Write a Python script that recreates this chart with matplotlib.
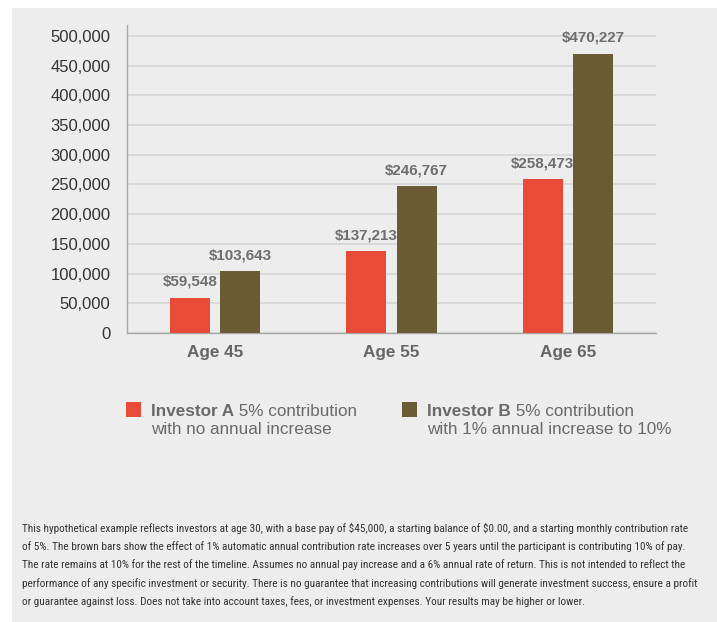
import matplotlib
matplotlib.use("Agg")
import matplotlib.pyplot as plt
from matplotlib import font_manager
from matplotlib.patches import Rectangle
import numpy as np

categories = ["Age 45", "Age 55", "Age 65"]
investor_a = [59548, 137213, 258473]
investor_b = [103643, 246767, 470227]
yticks = [0, 50000, 100000, 150000, 200000, 250000, 300000, 350000, 400000, 450000, 500000]
legend_a_bold = "Investor A"
legend_a_rest = [" 5% contribution", "with no annual increase"]
legend_b_bold = "Investor B"
legend_b_rest = [" 5% contribution", "with 1% annual increase to 10%"]
footnote_lines = [
    "This hypothetical example reflects investors at age 30, with a base pay of $45,000, a starting balance of $0.00, and a starting monthly contribution rate",
    "of 5%. The brown bars show the effect of 1% automatic annual contribution rate increases over 5 years until the participant is contributing 10% of pay.",
    "The rate remains at 10% for the rest of the timeline. Assumes no annual pay increase and a 6% annual rate of return. This is not intended to reflect the",
    "performance of any specific investment or security. There is no guarantee that increasing contributions will generate investment success, ensure a profit",
    "or guarantee against loss. Does not take into account taxes, fees, or investment expenses. Your results may be higher or lower.",
]

RED = "#E84B37"
BROWN = "#6B5B34"
BG = "#EDEDED"
W, H = 717, 622
DPI = 100

plt.rcParams['font.family'] = ['Liberation Sans', 'DejaVu Sans']

fig = plt.figure(figsize=(W / DPI, H / DPI), dpi=DPI, facecolor="white")
fig.patches.append(Rectangle((12 / W, 0), 1 - 12 / W, 1 - 8 / H, transform=fig.transFigure,
                             facecolor=BG, edgecolor="none", zorder=-10))

ax = fig.add_axes([127 / W, 1 - 333 / H, (656 - 127) / W, (333 - 25) / H])
ax.patch.set_alpha(0)

x = np.arange(len(categories))
bw = 0.227
off = 0.142
bars_a = ax.bar(x - off, investor_a, bw, color=RED, zorder=3)
bars_b = ax.bar(x + off, investor_b, bw, color=BROWN, zorder=3)

ax.set_xlim(-0.5, len(categories) - 0.5)
ax.set_ylim(0, 518500)
ax.set_yticks(yticks)
ax.set_yticklabels([f"{v:,}" for v in yticks], fontsize=12, color="#333333")
ax.set_xticks(x)
ax.set_xticklabels(categories, fontsize=12.3, fontweight="bold", color="#666666")
ax.tick_params(axis="y", length=0, pad=12)
ax.tick_params(axis="x", length=0, pad=9)
ax.yaxis.grid(True, color="#D6D6D6", linewidth=1.2, zorder=0)
ax.set_axisbelow(True)
for s in ["top", "right"]:
    ax.spines[s].set_visible(False)
for s in ["left", "bottom"]:
    ax.spines[s].set_color("#A8A8A8")
    ax.spines[s].set_linewidth(1)

for bars, vals in [(bars_a, investor_a), (bars_b, investor_b)]:
    for b, v in zip(bars, vals):
        ax.annotate(f"${v:,}", (b.get_x() + b.get_width() / 2, v), xytext=(0, 6.5),
                    textcoords="offset points", ha="center", va="bottom",
                    fontsize=10.9, fontweight="bold", color="#6E6E6E", parse_math=False)

fig.canvas.draw()
renderer = fig.canvas.get_renderer()
LEG_COL = "#6A6A6A"
for sq_x, txt_x, col, bold, rest in [(126, 151, RED, legend_a_bold, legend_a_rest),
                                      (402, 427, BROWN, legend_b_bold, legend_b_rest)]:
    fig.patches.append(Rectangle((sq_x / W, 1 - 417 / H), 15 / W, 15 / H, transform=fig.transFigure,
                                 facecolor=col, edgecolor="none"))
    tb = fig.text(txt_x / W, 1 - 411 / H, bold, fontsize=12.3, fontweight="bold", color=LEG_COL,
                  ha="left", va="center")
    bb = tb.get_window_extent(renderer)
    fig.text(bb.x1 / W, 1 - 411 / H, rest[0], fontsize=12.3, color=LEG_COL, ha="left", va="center")
    fig.text(txt_x / W, 1 - 429 / H, rest[1], fontsize=12.3, color=LEG_COL, ha="left", va="center")

# footnote font: prefer a narrow family if installed
names = sorted({f.name for f in font_manager.fontManager.ttflist})
fn_kw = None
for cand in ["Liberation Sans Narrow", "Arial Narrow", "Roboto Condensed", "Open Sans Condensed",
             "Noto Sans Condensed", "Noto Sans Display Condensed"]:
    if cand in names:
        fn_kw = dict(family=[cand])
        break
if fn_kw is None:
    cond = [f for f in font_manager.fontManager.ttflist
            if f.stretch in ("condensed", "semi-condensed", "extra-condensed") and f.style == "normal"
            and f.weight in (400, "normal", "regular")]
    if cond:
        fn_kw = dict(family=[cond[0].name], fontstretch=cond[0].stretch)
    else:
        fn_kw = dict(family=["DejaVu Sans"], fontstretch="condensed")

target_w = 690 - 22
fs = 9.0
t = fig.text(22 / W, 0.5, footnote_lines[0], fontsize=fs, parse_math=False, **fn_kw)
w = t.get_window_extent(renderer).width
fs = fs * target_w / w
t.remove()
y0 = 528
step = 18.5
for i, line in enumerate(footnote_lines):
    fig.text(22 / W, 1 - (y0 + i * step) / H, line, fontsize=fs, color="#333333",
             ha="left", va="center", parse_math=False, **fn_kw)

fig.savefig("out.png", dpi=DPI, facecolor="white")
